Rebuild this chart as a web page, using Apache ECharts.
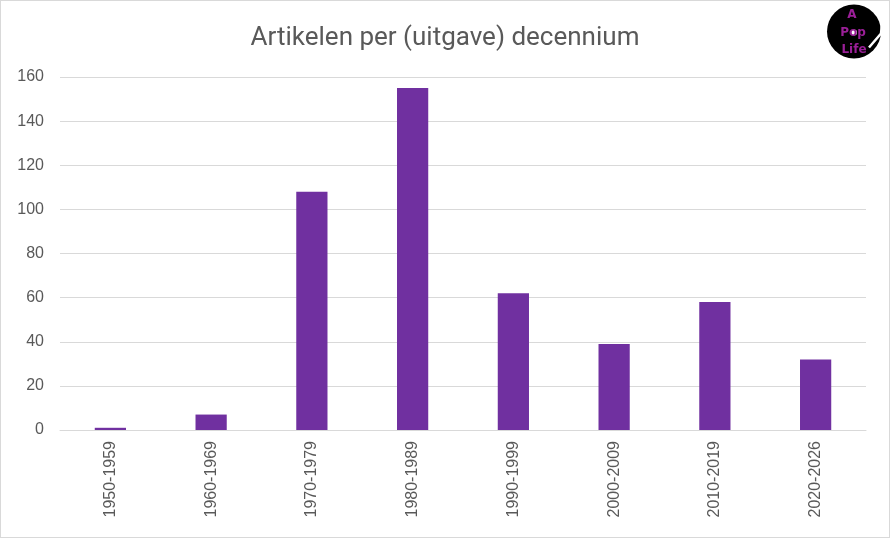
<!DOCTYPE html>
<html>
<head>
<meta charset="utf-8">
<script src="https://cdn.jsdelivr.net/npm/echarts@6/dist/echarts.min.js"></script>
<style>
  html, body { margin: 0; padding: 0; background: #fff; }
  #chart { width: 888px; height: 536px; border: 1px solid #d9d9d9; }
</style>
</head>
<body>
<div id="chart"></div>
<script>
const categories = ['1950-1959', '1960-1969', '1970-1979', '1980-1989', '1990-1999', '2000-2009', '2010-2019', '2020-2026'];
const articles = [1, 7, 108, 155, 62, 39, 58, 32];
const titleText = 'Artikelen per (uitgave) decennium';

const chart = echarts.init(document.getElementById('chart'));

chart.setOption({
  animation: false,
  title: {
    text: titleText,
    left: 'center',
    top: 19,
    textStyle: {
      fontFamily: 'Roboto',
      fontSize: 26,
      fontWeight: 'normal',
      color: '#595959'
    }
  },
  grid: {
    left: 59,
    right: 23,
    top: 76,
    bottom: 107
  },
  xAxis: {
    type: 'category',
    data: categories,
    axisLine: { lineStyle: { color: '#d9d9d9', width: 1 } },
    axisTick: { show: false },
    axisLabel: {
      rotate: 90,
      color: '#595959',
      fontFamily: 'Liberation Sans',
      fontSize: 16,
      margin: 11
    }
  },
  yAxis: {
    type: 'value',
    min: 0,
    max: 160,
    interval: 20,
    axisLine: { show: false },
    axisTick: { show: false },
    axisLabel: {
      color: '#595959',
      fontFamily: 'Liberation Sans',
      fontSize: 16,
      margin: 16
    },
    splitLine: { lineStyle: { color: '#d9d9d9', width: 1 } }
  },
  series: [{
    type: 'bar',
    data: articles,
    barWidth: '31%',
    itemStyle: { color: '#7030a0' }
  }],
  graphic: [{
    type: 'group',
    left: 826,
    top: 2,
    children: [
      { type: 'circle', shape: { cx: 27, cy: 28, r: 27 }, style: { fill: '#000' } },
      { type: 'circle', shape: { cx: 27, cy: 29, r: 3 }, style: { fill: '#fff' } },
      { type: 'polyline', shape: { points: [[57, 2], [54, 30], [42, 44]] }, style: { stroke: '#fff', lineWidth: 2.5, fill: null } },
      { type: 'text', style: { x: 25, y: 11, text: 'A', align: 'center', verticalAlign: 'middle', fill: '#9b1f98', font: 'bold 12px "DejaVu Sans"' } },
      { type: 'text', style: { x: 26, y: 29, text: 'Pop', align: 'center', verticalAlign: 'middle', fill: '#9b1f98', font: 'bold 12px "DejaVu Sans"' } },
      { type: 'text', style: { x: 27, y: 46, text: 'Life', align: 'center', verticalAlign: 'middle', fill: '#9b1f98', font: 'bold 12px "DejaVu Sans"' } }
    ]
  }]
});
</script>
</body>
</html>
